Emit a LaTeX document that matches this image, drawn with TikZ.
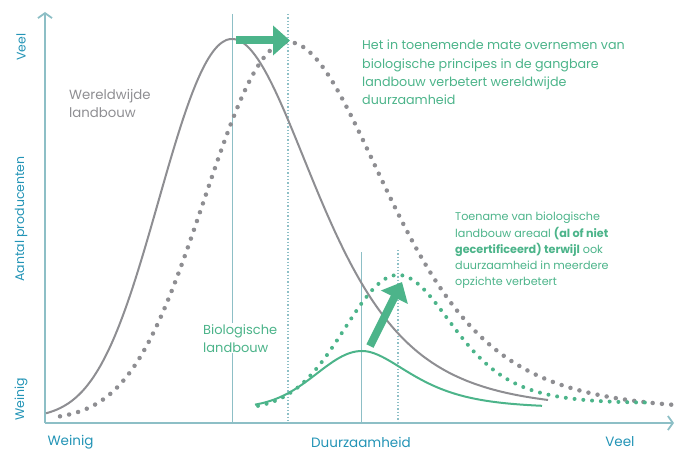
\documentclass[tikz,border=0pt]{standalone}
\usepackage{fontspec}
\setmainfont{Poppins}
\usetikzlibrary{arrows.meta, positioning}
\definecolor{axiscolor}{HTML}{8DBFC6}
\definecolor{labelcolor}{HTML}{2394B6}
\definecolor{greencolor}{HTML}{4CB48A}
\definecolor{greycolor}{HTML}{8E8E92}
\tikzset{
  axis_line/.style={draw=axiscolor, line width=1.8pt, -{Straight Barb[length=5pt, width=14pt]}},
  guide_solid/.style={draw=axiscolor, line width=1pt},
  guide_dotted/.style={draw=axiscolor, line width=1.3pt, dash pattern=on 1.3pt off 2pt},
  curve_grey/.style={draw=greycolor, line width=2pt},
  curve_grey_dotted/.style={draw=greycolor, line width=4.5pt, line cap=round, dash pattern=on 0pt off 9.3pt},
  curve_green/.style={draw=greencolor, line width=2pt},
  curve_green_dotted/.style={draw=greencolor, line width=4pt, line cap=round, dash pattern=on 0pt off 8.8pt},
  shift_arrow/.style={draw=greencolor, line width=8pt, -{Triangle[length=17pt, width=29pt]}},
  axis_label/.style={text=labelcolor, font=\fontsize{13.5}{15}\selectfont},
  axis_label_y/.style={text=labelcolor, font=\fontsize{12.5}{14}\selectfont, rotate=90},
  note_green/.style={text=greencolor, align=left, anchor=north west, inner sep=0pt},
  note_grey/.style={text=greycolor, align=left, anchor=north west, inner sep=0pt}
}
\begin{document}
\begin{tikzpicture}[x=1pt, y=-1pt]
\useasboundingbox (0,0) rectangle (687,452);
% axes
\coordinate (origin) at (45,423);
\coordinate (y_top) at (45,12);
\coordinate (x_end) at (674,423);
\draw[axis_line] (origin) -- (y_top);
\draw[axis_line] (origin) -- (x_end);
% guides
\draw[guide_solid] (232,14) -- (232,423);
\draw[guide_dotted] (288,14) -- (288,423);
\draw[guide_solid] (361,252) -- (361,423);
\draw[guide_dotted] (398,250) -- (398,423);
% world curves
\draw[curve_grey] plot[domain=46:548, samples=140, smooth]
  (\x, {418-379*exp(-0.5*((\x-232)/((\x<232) ? (74-0.06*(232-\x)) : (76+0.07*(\x-232)+3*((\x-232)/100)^2)))^2)});
\draw[curve_grey_dotted] plot[domain=60:676, samples=160, smooth]
  (\x, {420-378*exp(-0.5*((\x-288)/((\x<288) ? (84-0.04*(288-\x)) : (92+0.04*(\x-288)+3*((\x-288)/100)^2)))^2)});
% organic curves
\draw[curve_green] plot[domain=255:542, samples=100, smooth]
  (\x, {408-57*exp(-0.5*((\x-362)/((\x<362) ? 45 : (40+0.17*(\x-362))))^2)});
\draw[curve_green_dotted] plot[domain=258:652, samples=140, smooth]
  (\x, {410-135*exp(-0.5*((\x-398)/((\x<398) ? 53 : (54+8*((\x-398)/100)^2)))^2)});
% arrows
\coordinate (shift_start) at (236,40.5);
\coordinate (shift_end) at (290,40.5);
\draw[shift_arrow] (shift_start) -- (shift_end);
\coordinate (grow_start) at (370,346);
\coordinate (grow_end) at (402,282);
\draw[shift_arrow] (grow_start) -- (grow_end);
% axis labels
\node[axis_label, anchor=west] (x_low) at (44,442) {Weinig};
\node[axis_label] (x_title) at (361,442) {Duurzaamheid};
\node[axis_label, anchor=east] (x_high) at (638,442) {Veel};
\node[axis_label_y] (y_high) at (21,47) {Veel};
\node[axis_label_y] (y_title) at (21,219) {Aantal producenten};
\node[axis_label_y] (y_low) at (21,399) {Weinig};
% notes
\node[note_grey, font=\fontsize{13.3}{18}\selectfont] (world_label) at (69,89) {Wereldwijde\\landbouw};
\node[note_green, fill=white, inner sep=1pt, font=\fontsize{13}{18}\selectfont] (bio_label) at (202,323) {Biologische\\landbouw};
\node[note_green, font=\fontsize{12.7}{18.3}\selectfont] (shift_note) at (362,40) {Het in toenemende mate overnemen van\\biologische principes in de gangbare\\landbouw verbetert wereldwijde\\duurzaamheid};
\node[note_green, font=\fontsize{11.2}{16.3}\selectfont] (grow_note) at (455,212) {Toename van biologische\\landbouw areaal \textbf{(al of niet}\\\textbf{gecertificeerd) terwijl} ook\\duurzaamheid in meerdere\\opzichte verbetert};
\end{tikzpicture}
\end{document}
